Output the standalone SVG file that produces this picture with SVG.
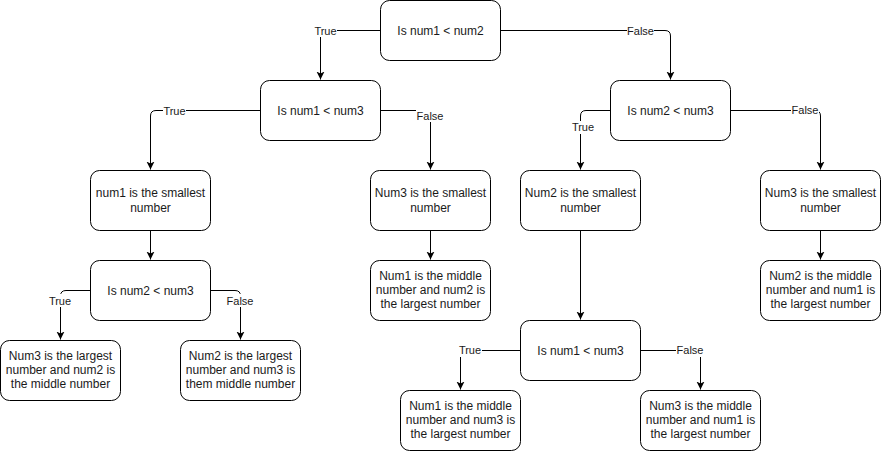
<svg xmlns="http://www.w3.org/2000/svg" width="881" height="451" viewBox="0 0 881 451">
  <style>
    .node rect { fill: #ffffff; stroke: #000000; stroke-width: 1; }
    .node text { font-family: "Liberation Sans", Arial, sans-serif; font-size: 12px; fill: #1a1a1a; text-anchor: middle; }
    .edge { fill: none; stroke: #000000; stroke-width: 1; marker-end: url(#arrow); }
    .lbl rect { fill: #ffffff; }
    .lbl text { font-family: "Liberation Sans", Arial, sans-serif; font-size: 11px; fill: #1a1a1a; text-anchor: middle; }
  </style>
  <defs>
    <marker id="arrow" markerUnits="userSpaceOnUse" markerWidth="10" markerHeight="10" refX="8" refY="4" orient="auto">
      <path d="M0,0 L8,4 L0,8 L2,4 Z" fill="#000000"/>
    </marker>
  </defs>
  <rect width="881" height="451" fill="#ffffff"/>

  <!-- connectors -->
  <g id="connectors">
    <path class="edge" d="M380.5,30.5 H325 Q320.5,30.5 320.5,35 V79.5"/>
    <path class="edge" d="M500.5,30.5 H665 Q670.5,30.5 670.5,36 V79.5"/>
    <path class="edge" d="M260.5,110.5 H156 Q150.5,110.5 150.5,116 V169.5"/>
    <path class="edge" d="M380.5,110.5 H425 Q430.5,110.5 430.5,116 V169.5"/>
    <path class="edge" d="M610.5,110.5 H586 Q580.5,110.5 580.5,116 V169.5"/>
    <path class="edge" d="M730.5,110.5 H815 Q820.5,110.5 820.5,116 V169.5"/>
    <path class="edge" d="M150.5,230.5 V259.5"/>
    <path class="edge" d="M430.5,230.5 V259.5"/>
    <path class="edge" d="M580.5,230.5 V319.5"/>
    <path class="edge" d="M820.5,230.5 V259.5"/>
    <path class="edge" d="M90.5,290.5 H66 Q60.5,290.5 60.5,296 V339.5"/>
    <path class="edge" d="M210.5,290.5 H235 Q240.5,290.5 240.5,296 V339.5"/>
    <path class="edge" d="M520.5,350.5 H466 Q460.5,350.5 460.5,356 V389.5"/>
    <path class="edge" d="M640.5,350.5 H695 Q700.5,350.5 700.5,356 V389.5"/>

    <!-- edge labels -->
    <g class="lbl"><rect x="314" y="24" width="23" height="13"/><text x="325.5" y="34.5">True</text></g>
    <g class="lbl"><rect x="627" y="24" width="27" height="13"/><text x="640.5" y="34.5">False</text></g>
    <g class="lbl"><rect x="163" y="104" width="23" height="13"/><text x="174.5" y="114.5">True</text></g>
    <g class="lbl"><rect x="416" y="109" width="28" height="13"/><text x="430" y="119.5">False</text></g>
    <g class="lbl"><rect x="571" y="121" width="23" height="13"/><text x="583" y="131">True</text></g>
    <g class="lbl"><rect x="791" y="104" width="28" height="13"/><text x="805" y="114">False</text></g>
    <g class="lbl"><rect x="48" y="294" width="24" height="13"/><text x="60" y="304.5">True</text></g>
    <g class="lbl"><rect x="226" y="294" width="28" height="13"/><text x="240" y="304.5">False</text></g>
    <g class="lbl"><rect x="458" y="344" width="24" height="13"/><text x="470" y="354">True</text></g>
    <g class="lbl"><rect x="676" y="344" width="28" height="13"/><text x="690" y="354">False</text></g>
  </g>

  <!-- nodes -->
  <g id="n-num1-lt-num2" class="node">
    <rect x="380.5" y="0.5" width="120" height="60" rx="9"/>
    <text x="440.5" y="34.5">Is num1 &lt; num2</text>
  </g>
  <g id="n-num1-lt-num3-a" class="node">
    <rect x="260.5" y="80.5" width="120" height="60" rx="9"/>
    <text x="320.5" y="114.5">Is num1 &lt; num3</text>
  </g>
  <g id="n-num2-lt-num3-a" class="node">
    <rect x="610.5" y="80.5" width="120" height="60" rx="9"/>
    <text x="670.5" y="114.5">Is num2 &lt; num3</text>
  </g>
  <g id="n-num1-smallest" class="node">
    <rect x="90.5" y="170.5" width="120" height="60" rx="9"/>
    <text x="150.5" y="197"><tspan x="150.5">num1 is the smallest</tspan><tspan x="150.5" dy="14.5">number</tspan></text>
  </g>
  <g id="n-num3-smallest-a" class="node">
    <rect x="370.5" y="170.5" width="120" height="60" rx="9"/>
    <text x="430.5" y="197"><tspan x="430.5">Num3 is the smallest</tspan><tspan x="430.5" dy="14.5">number</tspan></text>
  </g>
  <g id="n-num2-smallest" class="node">
    <rect x="520.5" y="170.5" width="120" height="60" rx="9"/>
    <text x="580.5" y="197"><tspan x="580.5">Num2 is the smallest</tspan><tspan x="580.5" dy="14.5">number</tspan></text>
  </g>
  <g id="n-num3-smallest-b" class="node">
    <rect x="760.5" y="170.5" width="120" height="60" rx="9"/>
    <text x="820.5" y="197"><tspan x="820.5">Num3 is the smallest</tspan><tspan x="820.5" dy="14.5">number</tspan></text>
  </g>
  <g id="n-num2-lt-num3-b" class="node">
    <rect x="90.5" y="260.5" width="120" height="60" rx="9"/>
    <text x="150.5" y="294.5">Is num2 &lt; num3</text>
  </g>
  <g id="n-res-1-2" class="node">
    <rect x="370.5" y="260.5" width="120" height="60" rx="9"/>
    <text x="430.5" y="280"><tspan x="430.5">Num1 is the middle</tspan><tspan x="430.5" dy="14.2">number and num2 is</tspan><tspan x="430.5" dy="14.2">the largest number</tspan></text>
  </g>
  <g id="n-res-2-1" class="node">
    <rect x="760.5" y="260.5" width="120" height="60" rx="9"/>
    <text x="820.5" y="280"><tspan x="820.5">Num2 is the middle</tspan><tspan x="820.5" dy="14.2">number and num1 is</tspan><tspan x="820.5" dy="14.2">the largest number</tspan></text>
  </g>
  <g id="n-res-3-2" class="node">
    <rect x="0.5" y="340.5" width="120" height="60" rx="9"/>
    <text x="60.5" y="360"><tspan x="60.5">Num3 is the largest</tspan><tspan x="60.5" dy="14.2">number and num2 is</tspan><tspan x="60.5" dy="14.2">the middle number</tspan></text>
  </g>
  <g id="n-res-2-3" class="node">
    <rect x="180.5" y="340.5" width="120" height="60" rx="9"/>
    <text x="240.5" y="360"><tspan x="240.5">Num2 is the largest</tspan><tspan x="240.5" dy="14.2">number and num3 is</tspan><tspan x="240.5" dy="14.2">them middle number</tspan></text>
  </g>
  <g id="n-num1-lt-num3-b" class="node">
    <rect x="520.5" y="320.5" width="120" height="60" rx="9"/>
    <text x="580.5" y="354.5">Is num1 &lt; num3</text>
  </g>
  <g id="n-res-1-3" class="node">
    <rect x="400.5" y="390.5" width="120" height="60" rx="9"/>
    <text x="460.5" y="410"><tspan x="460.5">Num1 is the middle</tspan><tspan x="460.5" dy="14.2">number and num3 is</tspan><tspan x="460.5" dy="14.2">the largest number</tspan></text>
  </g>
  <g id="n-res-3-1" class="node">
    <rect x="640.5" y="390.5" width="120" height="60" rx="9"/>
    <text x="700.5" y="410"><tspan x="700.5">Num3 is the middle</tspan><tspan x="700.5" dy="14.2">number and num1 is</tspan><tspan x="700.5" dy="14.2">the largest number</tspan></text>
  </g>
</svg>
